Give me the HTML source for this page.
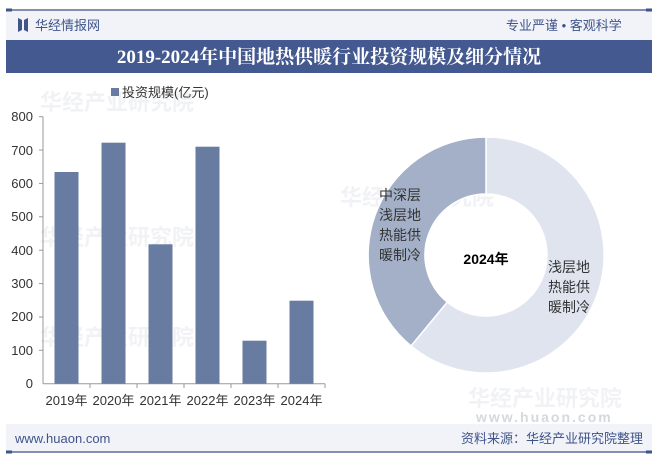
<!DOCTYPE html>
<html><head><meta charset="utf-8"><style>
body{margin:0;width:658px;height:461px;overflow:hidden;background:#fff;font-family:"Liberation Sans","Noto Sans CJK SC",sans-serif;}
</style></head><body>
<svg width="658" height="461" viewBox="0 0 658 461" xmlns="http://www.w3.org/2000/svg" style="font-family:'Liberation Sans','Noto Sans CJK SC',sans-serif">
<rect x="6" y="10" width="646" height="30" fill="#f1f3f8"/>
<line x1="6" y1="10" x2="652" y2="10" stroke="#5a6c9a" stroke-width="1.5"/>
<rect x="6" y="8.5" width="6" height="3" fill="#3f548a"/><rect x="646" y="8.5" width="6" height="3" fill="#3f548a"/>
<path d="M18,18 L22,20 L22,30 L18,32 Z M28,18 L24,20 L24,30 L28,32 Z" fill="#3f548a"/>
<text x="35" y="30" font-size="13" fill="#3f548a">华经情报网</text>
<text x="506" y="30" font-size="13" fill="#3f548a" text-anchor="start">专业严谨 • 客观科学</text>
<rect x="6" y="40" width="646" height="33" fill="#44598f"/>
<text x="329" y="63" font-size="19" font-weight="bold" fill="#fff" text-anchor="middle" font-family="'Liberation Serif','Noto Serif CJK SC',serif">2019-2024年中国地热供暖行业投资规模及细分情况</text>
<g fill="#e2e4ea" opacity="0.45" font-size="22" font-weight="bold">
<text x="40" y="110">华经产业研究院</text><text x="40" y="245">华经产业研究院</text><text x="40" y="345">华经产业研究院</text>
<text x="340" y="205">华经产业研究院</text><text x="468" y="406">华经产业研究院</text>
</g>
<text x="476" y="422" font-size="14" fill="#d6d8de" font-weight="bold" letter-spacing="2">www.huaon.com</text>
<rect x="111" y="88" width="8" height="8" fill="#687ba0"/>
<text x="122" y="97" font-size="13" fill="#333">投资规模(亿元)</text>
<g font-size="13" fill="#333" text-anchor="end">
<text x="33" y="121">800</text><text x="33" y="155">700</text><text x="33" y="188">600</text><text x="33" y="221">500</text><text x="33" y="255">400</text><text x="33" y="288">300</text><text x="33" y="321">200</text><text x="33" y="355">100</text><text x="33" y="388">0</text>
</g>
<g stroke="#999" stroke-width="1">
<line x1="43" y1="116.7" x2="43" y2="383.7"/><line x1="43" y1="383.7" x2="325" y2="383.7"/>
<line x1="39" y1="116.7" x2="43" y2="116.7"/><line x1="39" y1="150" x2="43" y2="150"/><line x1="39" y1="183.4" x2="43" y2="183.4"/><line x1="39" y1="216.8" x2="43" y2="216.8"/><line x1="39" y1="250.2" x2="43" y2="250.2"/><line x1="39" y1="283.6" x2="43" y2="283.6"/><line x1="39" y1="317" x2="43" y2="317"/><line x1="39" y1="350.3" x2="43" y2="350.3"/>
<line x1="90" y1="383.7" x2="90" y2="388"/><line x1="137" y1="383.7" x2="137" y2="388"/><line x1="184" y1="383.7" x2="184" y2="388"/><line x1="231" y1="383.7" x2="231" y2="388"/><line x1="278" y1="383.7" x2="278" y2="388"/><line x1="325" y1="383.7" x2="325" y2="388"/>
</g>
<g fill="#687ba0">
<rect x="54.5" y="172" width="24" height="211.7"/><rect x="101.5" y="142.7" width="24" height="241"/><rect x="148.5" y="244.3" width="24" height="139.4"/><rect x="195.5" y="146.7" width="24" height="237"/><rect x="242.5" y="340.7" width="24" height="43"/><rect x="289.5" y="300.7" width="24" height="83"/>
</g>
<g font-size="13" fill="#333" text-anchor="middle">
<text x="66.5" y="405">2019年</text><text x="113.5" y="405">2020年</text><text x="160.5" y="405">2021年</text><text x="207.5" y="405">2022年</text><text x="254.5" y="405">2023年</text><text x="301.5" y="405">2024年</text>
</g>
<path d="M486,137 A118,118 0 1 1 411,346 L447.2,302.1 A61,61 0 1 0 486,194 Z" fill="#dfe4ee" stroke="#fff" stroke-width="1.5"/>
<path d="M411,346 A118,118 0 0 1 486,137 L486,194 A61,61 0 0 0 447.2,302.1 Z" fill="#a3b0c8" stroke="#fff" stroke-width="1.5"/>
<text x="486" y="264" font-size="14" font-weight="bold" fill="#000" text-anchor="middle">2024年</text>
<g font-size="14" fill="#333">
<text x="379" y="200">中深层</text><text x="379" y="220">浅层地</text><text x="379" y="240">热能供</text><text x="379" y="260">暖制冷</text>
<text x="548" y="272">浅层地</text><text x="548" y="292">热能供</text><text x="548" y="312">暖制冷</text>
</g>
<rect x="6" y="424" width="646" height="28" fill="#f1f3f8"/>
<line x1="6" y1="452" x2="652" y2="452" stroke="#5a6c9a" stroke-width="1.5"/>
<rect x="6" y="450.5" width="6" height="3" fill="#3f548a"/><rect x="646" y="450.5" width="6" height="3" fill="#3f548a"/>
<text x="15" y="443" font-size="13" fill="#3f548a">www.huaon.com</text>
<text x="643" y="443" font-size="13" fill="#3f548a" text-anchor="end">资料来源：华经产业研究院整理</text>
</svg>
</body></html>
